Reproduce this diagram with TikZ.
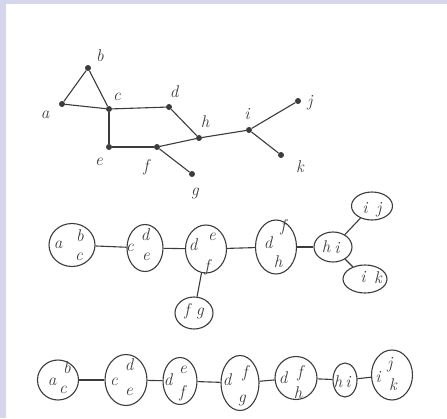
\documentclass[tikz,border=0pt]{standalone}
\usetikzlibrary{shapes.geometric}
\definecolor{frame}{RGB}{213,213,235}
\definecolor{pen}{RGB}{60,60,60}
\tikzset{
  vtx/.style={circle,fill=pen,inner sep=0pt,minimum size=6pt},
  lbl/.style={font=\fontsize{17}{17}\selectfont\itshape,text=pen,inner sep=0pt},
  bag/.style={ellipse,draw=pen,line width=1.1pt,inner sep=0pt},
  ln/.style={draw=pen,line width=1.1pt}
}
\begin{document}
\begin{tikzpicture}[x=1pt,y=-1pt]
\useasboundingbox (0,0) rectangle (447,418);
\fill[frame] (0,0) rectangle (447,4);
\fill[frame] (0,0) rectangle (6,418);
% the graph
\foreach \n/\x/\y in {a/62/104, b/88/68, c/109/109, d/169/107, e/109/147,
    f/157/147, g/192/174, h/199/138, i/249/130, j/298/101, k/281/155}
  \node[vtx] (\n) at (\x,\y) {};
\foreach \n/\x/\y in {a/45/115, b/100/56, c/117/97, d/174/92, e/99/162,
    f/146/167, g/195/193, h/205/122, i/247/114, j/310/103, k/300/167}
  \node[lbl] (l\n) at (\x,\y) {\n};
\foreach \u/\v in {a/b, a/c, b/c, c/d, c/e, d/h, e/f, f/h, f/g, h/i, i/j, i/k}
  \draw[ln] (\u) -- (\v);
% first tree of bags
\node[bag,minimum width=46,minimum height=43] (abc) at (72,245) {};
\node[bag,minimum width=36,minimum height=47] (cde) at (145,248) {};
\node[bag,minimum width=41,minimum height=48] (def) at (206,249) {};
\node[bag,minimum width=38,minimum height=32] (fg) at (194,313) {};
\node[bag,minimum width=41,minimum height=54] (dfh) at (276,247) {};
\node[bag,minimum width=38,minimum height=30] (hi) at (333,247) {};
\node[bag,minimum width=41,minimum height=28] (ij) at (372,206) {};
\node[bag,minimum width=44,minimum height=28] (ik) at (365,279) {};
\foreach \t/\x/\y [count=\k] in {a/58/245, b/80/236, c/79/257,
    c/130/248, d/145/235, e/146/257, d/193/245, e/212/237, f/207/267,
    f/187/311, g/200/313, d/268/243, f/283/227, h/278/262,
    h/326/247, i/337/248, i/365/208, j/379/210, i/363/277, k/378/278}
  \node[lbl] (m\k) at (\x,\y) {\t};
\foreach \u/\v in {abc/cde, cde/def, def/fg, def/dfh, dfh/hi, hi/ij, hi/ik}
  \draw[ln] (\u) -- (\v);
% the path of bags
\node[bag,minimum width=41,minimum height=40] (p1) at (58,380) {};
\node[bag,minimum width=42,minimum height=51] (p2) at (126,380) {};
\node[bag,minimum width=34,minimum height=47] (p3) at (180,381) {};
\node[bag,minimum width=38,minimum height=55] (p4) at (240,383) {};
\node[bag,minimum width=42,minimum height=43] (p5) at (296,378) {};
\node[bag,minimum width=24,minimum height=34] (p6) at (345,380) {};
\node[bag,minimum width=41,minimum height=50] (p7) at (392,375) {};
\foreach \t/\x/\y [count=\k] in {a/52/382, b/67/368, c/63/390,
    c/114/382, d/129/365, e/129/392, d/168/380, e/183/370, f/182/393,
    d/227/380, f/245/373, g/242/400, d/283/378, f/300/373, h/298/393,
    h/338/382, i/348/382, i/378/377, j/390/365, k/393/385}
  \node[lbl] (q\k) at (\x,\y) {\t};
\foreach \u/\v in {p1/p2, p2/p3, p3/p4, p4/p5, p5/p6, p6/p7}
  \draw[ln] (\u) -- (\v);
\end{tikzpicture}
\end{document}
